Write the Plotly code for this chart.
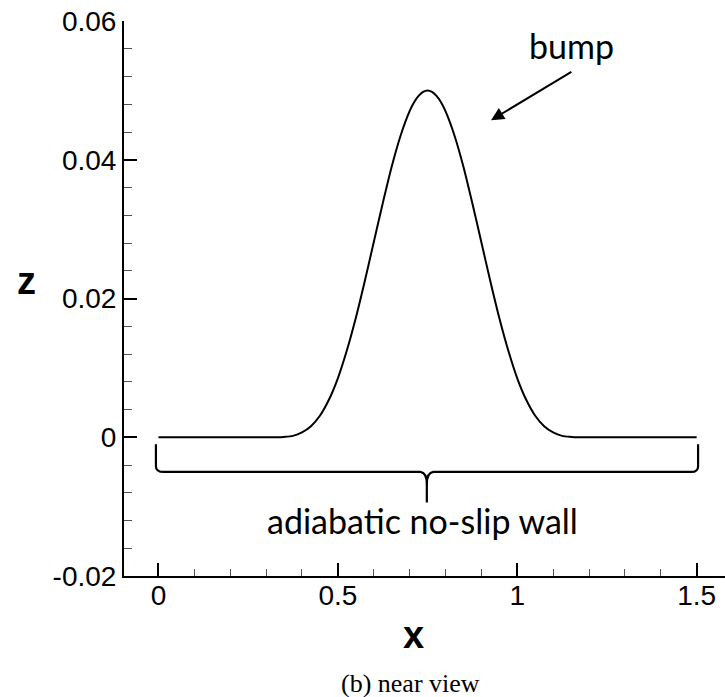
import plotly.graph_objects as go

# Bump-in-channel wall profile z(x)
x_vals = [0.0, 0.1, 0.2, 0.3, 0.325, 0.35, 0.375, 0.4, 0.425, 0.45, 0.475, 0.5,
          0.525, 0.55, 0.575, 0.6, 0.625, 0.65, 0.675, 0.7, 0.7125, 0.725, 0.7375, 0.75,
          0.7625, 0.775, 0.7875, 0.8, 0.825, 0.85, 0.875, 0.9, 0.925, 0.95, 0.975, 1.0,
          1.025, 1.05, 1.075, 1.1, 1.125, 1.15, 1.175, 1.2, 1.3, 1.4, 1.5]
z_vals = [0.0, 0.0, 0.0, 0.0, 0.0, 0.00005, 0.0002, 0.0007, 0.0016, 0.0031, 0.0054, 0.0085,
          0.0125, 0.0172, 0.0225, 0.0281, 0.0337, 0.0390, 0.0435, 0.0470, 0.0483, 0.0492, 0.0498, 0.0500,
          0.0498, 0.0492, 0.0483, 0.0470, 0.0435, 0.0390, 0.0337, 0.0281, 0.0225, 0.0172, 0.0125, 0.0085,
          0.0054, 0.0031, 0.0016, 0.0007, 0.0002, 0.00005, 0.0, 0.0, 0.0, 0.0, 0.0]

x_ticks = [0, 0.5, 1, 1.5]
x_tick_text = ["0", "0.5", "1", "1.5"]
z_ticks = [-0.02, 0, 0.02, 0.04, 0.06]
z_tick_text = ["-0.02", "0", "0.02", "0.04", "0.06"]

x_range = [-0.096, 1.579]
z_range = [-0.02, 0.06]

tick_font = dict(family="Liberation Sans, Arial, sans-serif", size=28, color="black")
note_font = dict(family="Lato, sans-serif", size=34, color="black")

fig = go.Figure()
fig.add_trace(go.Scatter(x=x_vals, y=z_vals, mode="lines",
                         line=dict(color="black", width=2, shape="spline", smoothing=0.8),
                         hoverinfo="skip", showlegend=False))

axis_common = dict(showline=True, linecolor="black", linewidth=2, ticks="inside",
                   ticklen=13, tickwidth=2, tickcolor="black", showgrid=False,
                   zeroline=False, tickfont=tick_font, mirror=False)

fig.update_xaxes(range=x_range, tickmode="array", tickvals=x_ticks, ticktext=x_tick_text,
                 ticklabelstandoff=-7,
                 minor=dict(ticks="inside", dtick=0.1, tick0=0, ticklen=7, tickwidth=1,
                            tickcolor="#555555", showgrid=False),
                 **axis_common)
fig.update_yaxes(range=z_range, tickmode="array", tickvals=z_ticks, ticktext=z_tick_text,
                 minor=dict(ticks="inside", dtick=0.004, tick0=0, ticklen=8, tickwidth=1,
                            tickcolor="#555555", showgrid=False),
                 **axis_common)

# Brace under the wall
brace = ("M -0.007,-0.0010 L -0.007,-0.0042 Q -0.007,-0.0050 0.015,-0.0050 "
         "L 0.730,-0.0050 Q 0.748,-0.0051 0.748,-0.0068 L 0.748,-0.0094 "
         "M 0.748,-0.0068 Q 0.748,-0.0051 0.766,-0.0050 "
         "L 1.485,-0.0050 Q 1.504,-0.0050 1.504,-0.0042 L 1.504,-0.0010")
fig.add_shape(type="path", path=brace, xref="x", yref="y",
              line=dict(color="black", width=2.2))

fig.add_annotation(x=0.735, y=-0.0120, xref="x", yref="y", text="adiabatic no-slip wall",
                   showarrow=False, font=note_font, xanchor="center", yanchor="middle")
fig.add_annotation(x=1.150, y=0.0564, xref="x", yref="y", text="bump",
                   showarrow=False, font=note_font, xanchor="center", yanchor="middle")
fig.add_annotation(x=0.927, y=0.0457, xref="x", yref="y", ax=1.155, ay=0.0528,
                   axref="x", ayref="y", text="", showarrow=True, arrowhead=2,
                   arrowsize=1.3, arrowwidth=2, arrowcolor="black")

# Axis titles and caption
fig.add_annotation(x=(413 - 124) / 601, y=(576 - 635) / 555, xref="paper", yref="paper",
                   text="<b>x</b>", showarrow=False,
                   font=dict(family="Liberation Sans, Arial, sans-serif", size=38, color="black"),
                   xanchor="center", yanchor="middle")
fig.add_annotation(x=(26 - 124) / 601, y=(576 - 281) / 555, xref="paper", yref="paper",
                   text="<b>z</b>", showarrow=False,
                   font=dict(family="Liberation Sans, Arial, sans-serif", size=38, color="black"),
                   xanchor="center", yanchor="middle")
fig.add_annotation(x=(410 - 124) / 601, y=(576 - 683) / 555, xref="paper", yref="paper",
                   text="(b) near view", showarrow=False,
                   font=dict(family="Liberation Serif, Times New Roman, serif", size=26, color="black"),
                   xanchor="center", yanchor="middle")

fig.update_layout(width=725, height=697, margin=dict(l=124, r=0, t=21, b=121),
                  paper_bgcolor="white", plot_bgcolor="white", showlegend=False)

fig.write_html("out.html")
